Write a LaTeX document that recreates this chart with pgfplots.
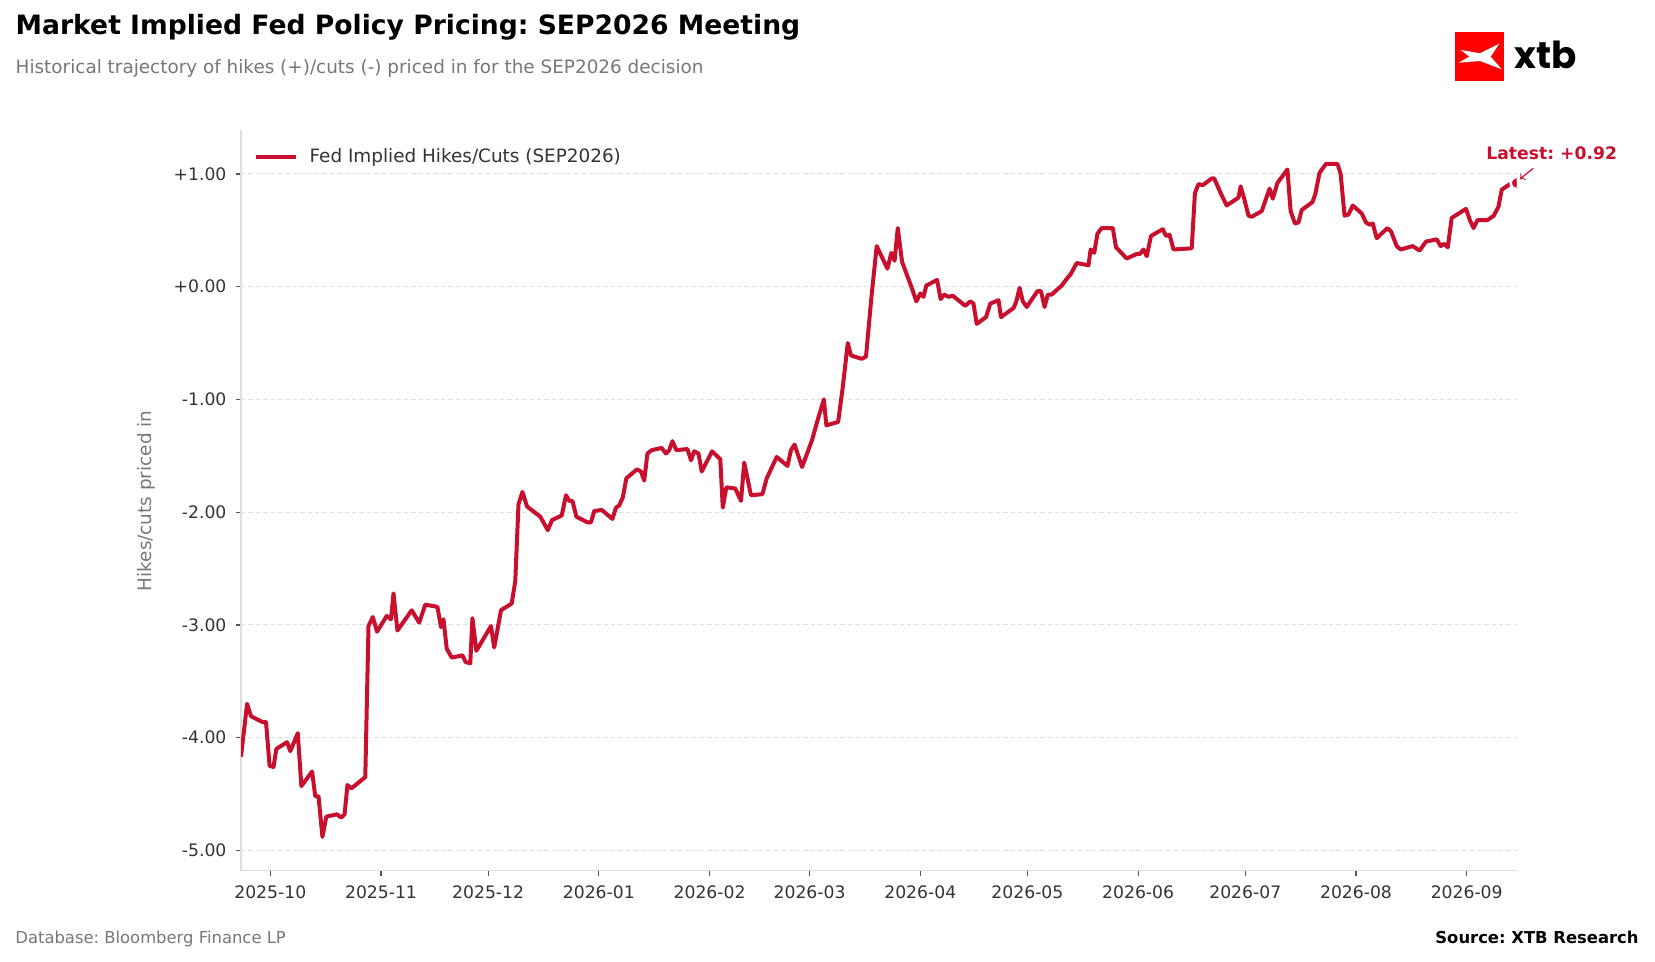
\documentclass[border=0pt]{standalone}
\usepackage{pgfplots}
\pgfplotsset{compat=1.18}
\usepackage{fontspec}
\setmainfont{DejaVu Sans}
\newfontfamily\logofont{Poppins}
\definecolor{crim}{HTML}{C8102E}
\definecolor{subgray}{HTML}{777777}
\definecolor{tickcol}{HTML}{333333}
\definecolor{spinegray}{HTML}{DDDDDD}
\definecolor{gridgray}{HTML}{E0E0E0}
\definecolor{tickgray}{HTML}{555555}
\definecolor{xtbred}{HTML}{FF0000}
\frenchspacing
\begin{document}
\begin{tikzpicture}
\path[use as bounding box] (0,0) rectangle (827.5pt,481pt);
% title and subtitle
\node[anchor=base west, inner sep=0pt] at (7.65pt,463.5pt) {\fontsize{13.3}{15}\selectfont\bfseries Market Implied Fed Policy Pricing: SEP2026 Meeting};
\node[anchor=base west, inner sep=0pt, text=subgray] at (7.65pt,444.35pt) {\fontsize{9.2}{11}\selectfont Historical trajectory of hikes (+)/cuts (-) priced in for the SEP2026 decision};
% logo
\fill[xtbred] (727.5pt,440.65pt) rectangle (752pt,465pt);
\fill[white] (730.35pt,456pt) -- ++(9.65pt,-1.65pt) -- ++(9.65pt,4.8pt) -- ++(-4.3pt,-6.5pt) -- ++(5.5pt,-6.3pt) -- ++(-10.85pt,4.15pt) -- ++(-10.65pt,-0.85pt) -- ++(5.3pt,3pt) -- cycle;
\node[anchor=base west, inner sep=0pt] at (757.15pt,446.5pt) {\logofont\bfseries\fontsize{18.6}{21}\selectfont xtb};
\begin{axis}[
  at={(120.5pt,45.65pt)}, anchor=south west,
  width=637.85pt, height=370.35pt, scale only axis,
  xmin=-8.2, xmax=349.0, ymin=-5.18, ymax=1.39,
  axis x line*=bottom, axis y line*=left,
  axis line style={draw=spinegray, line width=0.6pt},
  xtick={0,31,61,92,123,151,182,212,243,273,304,335},
  xticklabels={2025-10,2025-11,2025-12,2026-01,2026-02,2026-03,2026-04,2026-05,2026-06,2026-07,2026-08,2026-09},
  ytick={-5,-4,-3,-2,-1,0,1},
  yticklabels={-5.00,-4.00,-3.00,-2.00,-1.00,+0.00,+1.00},
  tick align=outside, major tick length=2.6pt,
  tick style={draw=tickgray, line width=0.6pt},
  ymajorgrids,
  grid style={draw=gridgray, dash pattern=on 2.2pt off 1.5pt, line width=0.5pt},
  ticklabel style={font=\fontsize{8.6}{10}\selectfont, text=tickcol},
  yticklabel style={anchor=east, inner sep=0pt, xshift=-4.5pt},
  xticklabel style={anchor=north, inner sep=0pt, yshift=-4.6pt},
  legend style={draw=none, fill=none, at={(0.0102,0.9632)}, anchor=west, inner sep=0pt,
    font=\fontsize{9.2}{11}\selectfont, text=tickcol,
    /tikz/every odd column/.append style={column sep=3.6pt}},
  legend cell align=left,
  legend image code/.code={\draw[crim, line width=2pt] (0pt,0pt) -- (20pt,0pt);},
  clip=true, clip marker paths=true,
]
\addplot[crim, line width=2pt, line join=round] table {
x y
-8.2 -4.17
-6.5 -3.70
-5.4 -3.81
-2.3 -3.86
-1.2 -3.86
-0.2 -4.25
0.9 -4.26
1.7 -4.10
4.7 -4.04
5.6 -4.12
7.7 -3.96
8.7 -4.43
11.7 -4.30
12.6 -4.52
13.5 -4.52
14.6 -4.88
15.7 -4.70
18.7 -4.68
19.8 -4.71
20.8 -4.68
21.6 -4.42
22.7 -4.45
26.6 -4.35
27.5 -3.01
28.7 -2.93
29.9 -3.06
32.6 -2.92
33.8 -2.95
34.5 -2.72
35.6 -3.05
39.6 -2.87
41.7 -2.98
43.4 -2.82
46.8 -2.84
47.8 -3.02
48.5 -2.95
49.4 -3.21
50.8 -3.29
53.8 -3.27
54.7 -3.33
56.0 -3.34
56.6 -2.94
57.7 -3.23
61.8 -3.01
62.7 -3.20
64.6 -2.87
67.6 -2.81
68.6 -2.61
69.5 -1.93
70.6 -1.82
71.9 -1.95
75.6 -2.04
77.7 -2.16
78.9 -2.07
81.6 -2.03
82.8 -1.85
83.7 -1.90
84.6 -1.90
85.7 -2.04
88.8 -2.09
89.8 -2.09
90.7 -1.99
92.8 -1.98
95.8 -2.06
96.8 -1.96
97.7 -1.94
98.7 -1.87
99.7 -1.70
102.7 -1.62
103.8 -1.64
104.7 -1.72
105.6 -1.48
106.8 -1.45
109.6 -1.43
110.8 -1.48
111.7 -1.45
112.6 -1.37
113.7 -1.45
116.8 -1.44
117.8 -1.54
118.7 -1.46
119.9 -1.48
120.8 -1.64
123.7 -1.46
126.0 -1.53
126.7 -1.96
127.7 -1.78
130.2 -1.79
131.8 -1.90
132.7 -1.56
134.6 -1.85
137.8 -1.84
139.0 -1.70
141.8 -1.51
144.8 -1.59
145.8 -1.45
146.8 -1.40
148.9 -1.60
151.7 -1.36
153.1 -1.20
155.0 -1.00
155.7 -1.23
159.0 -1.20
160.3 -0.89
161.7 -0.50
162.6 -0.61
165.6 -0.64
166.8 -0.62
168.3 -0.10
169.8 0.36
172.8 0.16
173.9 0.30
174.8 0.23
175.7 0.52
176.9 0.22
179.5 0.00
180.9 -0.13
182.0 -0.06
182.9 -0.09
183.7 0.01
186.7 0.06
187.7 -0.11
188.7 -0.07
189.9 -0.09
191.1 -0.08
194.6 -0.17
196.0 -0.13
196.9 -0.15
197.8 -0.33
200.4 -0.27
201.6 -0.15
203.9 -0.12
204.6 -0.27
208.1 -0.19
208.9 -0.13
209.8 -0.01
210.7 -0.13
211.8 -0.18
214.8 -0.04
215.8 -0.04
216.8 -0.18
217.7 -0.07
218.8 -0.07
221.6 0.01
223.0 0.07
224.1 0.11
225.8 0.21
229.1 0.19
229.7 0.33
230.7 0.30
231.6 0.47
232.8 0.52
235.9 0.52
236.8 0.35
239.8 0.25
242.6 0.29
243.5 0.29
244.5 0.33
245.4 0.27
246.6 0.45
249.9 0.51
250.8 0.45
251.8 0.46
252.9 0.33
258.0 0.34
258.9 0.83
259.9 0.91
261.1 0.90
263.6 0.96
264.3 0.96
266.4 0.81
267.8 0.72
271.1 0.79
271.7 0.89
272.7 0.78
273.9 0.63
274.8 0.62
277.6 0.67
279.8 0.87
280.7 0.78
282.0 0.92
284.8 1.04
285.7 0.67
286.9 0.56
287.9 0.57
288.8 0.68
291.8 0.75
292.6 0.82
293.8 1.01
295.6 1.09
298.8 1.09
299.7 1.00
300.8 0.63
301.9 0.64
303.1 0.72
305.6 0.65
306.8 0.57
307.8 0.55
308.7 0.56
309.8 0.43
312.8 0.52
313.8 0.49
315.4 0.36
316.5 0.33
319.9 0.36
321.8 0.32
323.6 0.40
326.6 0.42
327.7 0.36
328.7 0.38
329.7 0.35
330.8 0.61
334.8 0.69
335.9 0.59
336.9 0.52
338.0 0.59
340.8 0.59
342.6 0.63
343.9 0.71
344.8 0.86
347.1 0.91
349.0 0.92
};
\addlegendentry{Fed Implied Hikes/Cuts (SEP2026)}
\addplot[only marks, mark=*, mark size=3pt, mark options={fill=crim, draw=white, line width=1.3pt}, forget plot] coordinates {(349.0,0.92)};
\end{axis}
% y label
\node[rotate=90, text=subgray, inner sep=0pt] at (73pt,230.5pt) {\fontsize{9.2}{11}\selectfont Hikes/cuts priced in};
% latest annotation
\node[anchor=base west, inner sep=0pt, text=crim] at (743pt,401.35pt) {\fontsize{8.6}{10}\selectfont\bfseries Latest: +0.92};
\draw[crim, line width=0.6pt, ->] (766.65pt,396.85pt) -- (760pt,391.5pt);
% footers
\node[anchor=base west, inner sep=0pt, text=subgray] at (7.5pt,9pt) {\fontsize{8.2}{10}\selectfont Database: Bloomberg Finance LP};
\node[anchor=base east, inner sep=0pt] at (819.5pt,9pt) {\fontsize{8.2}{10}\selectfont\bfseries Source: XTB Research};
\end{tikzpicture}
\end{document}
